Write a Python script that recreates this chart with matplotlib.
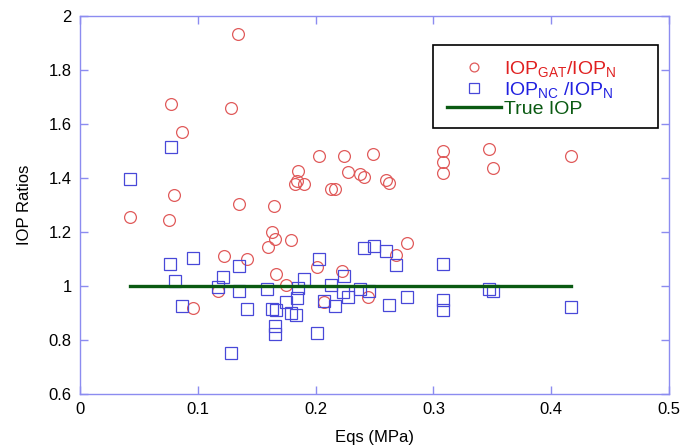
import matplotlib
matplotlib.use("Agg")
import matplotlib.pyplot as plt
from matplotlib.patches import Rectangle

plt.rcParams['font.family'] = ['Liberation Sans', 'DejaVu Sans']
plt.rcParams['mathtext.fontset'] = 'custom'
plt.rcParams['mathtext.rm'] = 'Liberation Sans'
plt.rcParams['mathtext.it'] = 'Liberation Sans'

gat_x = [0.134, 0.077, 0.128, 0.087, 0.080, 0.1347, 0.0424, 0.0753, 0.2029, 0.224,
         0.249, 0.3084, 0.3084, 0.308, 0.185, 0.184, 0.1825, 0.190, 0.2278, 0.2377,
         0.241, 0.2595, 0.2623, 0.213, 0.2165, 0.165, 0.1627, 0.1658, 0.160, 0.179,
         0.2776, 0.122, 0.1418, 0.2685, 0.2012, 0.2227, 0.166, 0.1749, 0.2074, 0.2445,
         0.117, 0.096, 0.347, 0.351, 0.4165]
gat_y = [1.933, 1.674, 1.66, 1.571, 1.338, 1.304, 1.257, 1.244, 1.480, 1.483,
         1.489, 1.501, 1.460, 1.417, 1.426, 1.389, 1.379, 1.379, 1.423, 1.414,
         1.405, 1.393, 1.380, 1.359, 1.359, 1.296, 1.201, 1.175, 1.146, 1.170,
         1.160, 1.112, 1.100, 1.115, 1.070, 1.054, 1.043, 1.004, 0.941, 0.958,
         0.981, 0.919, 1.507, 1.436, 1.480]

nc_x = [0.0427, 0.0775, 0.2414, 0.2496, 0.260, 0.2032, 0.1347, 0.2685, 0.308, 0.0761,
        0.0962, 0.0806, 0.1217, 0.117, 0.135, 0.087, 0.142, 0.1585, 0.1285, 0.190,
        0.185, 0.1845, 0.175, 0.1633, 0.1664, 0.179, 0.183, 0.1653, 0.1655, 0.213,
        0.2232, 0.2278, 0.224, 0.2074, 0.2167, 0.2377, 0.245, 0.2015, 0.2626, 0.2776,
        0.308, 0.308, 0.347, 0.351, 0.4165]
nc_y = [1.395, 1.515, 1.142, 1.147, 1.131, 1.099, 1.075, 1.078, 1.081, 1.081,
        1.105, 1.019, 1.032, 0.998, 0.981, 0.927, 0.916, 0.989, 0.752, 1.025,
        0.994, 0.956, 0.940, 0.916, 0.910, 0.900, 0.893, 0.852, 0.821, 1.005,
        0.978, 0.958, 1.037, 0.944, 0.926, 0.988, 0.980, 0.825, 0.931, 0.958,
        0.947, 0.910, 0.988, 0.983, 0.921]

true_x = [min(gat_x), max(gat_x)]
true_y = [1.0, 1.0]

xticks = [0, 0.1, 0.2, 0.3, 0.4, 0.5]
xticklabels = ['0', '0.1', '0.2', '0.3', '0.4', '0.5']
yticks = [0.6, 0.8, 1.0, 1.2, 1.4, 1.6, 1.8, 2.0]
yticklabels = ['0.6', '0.8', '1', '1.2', '1.4', '1.6', '1.8', '2']

fig = plt.figure(figsize=(6.99, 4.48), dpi=100)
ax = fig.add_axes([80/699, 54/448, 589/699, 378/448])

ax.plot(gat_x, gat_y, linestyle='none', marker='o', markersize=8.5,
        markerfacecolor='none', markeredgecolor='#e05a5a', markeredgewidth=0.9,
        label=r'IOP$_{\mathrm{GAT}}$/IOP$_{\mathrm{N}}$')
ax.plot(nc_x, nc_y, linestyle='none', marker='s', markersize=9,
        markerfacecolor='none', markeredgecolor='#4848d8', markeredgewidth=0.9,
        label=r'IOP$_{\mathrm{NC}}$ /IOP$_{\mathrm{N}}$')
ax.plot(true_x, true_y, color='#0a5a12', linewidth=2.4, label='True IOP')

ax.set_xlim(0, 0.5)
ax.set_ylim(0.6, 2.0)
ax.set_xticks(xticks)
ax.set_xticklabels(xticklabels)
ax.set_yticks(yticks)
ax.set_yticklabels(yticklabels)

spine_color = '#8c8cf0'
for s in ax.spines.values():
    s.set_color(spine_color)
    s.set_linewidth(1.0)
ax.tick_params(direction='in', length=6, width=1.0, color=spine_color,
               top=True, right=True, labelsize=12, labelcolor='black', pad=6)

ax.set_xlabel('Eqs (MPa)', fontsize=12, labelpad=9)
ax.set_ylabel('IOP Ratios', fontsize=12, labelpad=12)

# legend frame (drawn separately so it can be wider than its contents)
ax.add_patch(Rectangle((0.599, 0.704), 0.382, 0.219, transform=ax.transAxes,
                       facecolor='white', edgecolor='black', linewidth=1.2,
                       zorder=5))
leg = ax.legend(loc='upper left', bbox_to_anchor=(0.623, 0.887), fontsize=14,
                frameon=False, handlelength=2.8, labelspacing=0.05,
                borderpad=0, borderaxespad=0, handletextpad=0.15,
                markerscale=0.75)
leg.set_zorder(6)
colors = ['#e02020', '#2020e0', '#0a5a12']
for t, c in zip(leg.get_texts(), colors):
    t.set_color(c)

fig.savefig('out.png', dpi=100)
